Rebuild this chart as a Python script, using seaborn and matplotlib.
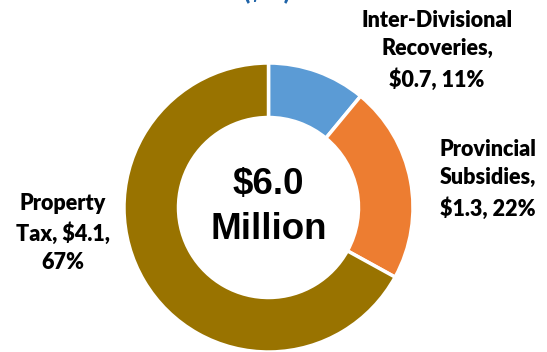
import matplotlib
matplotlib.use("Agg")
import matplotlib.pyplot as plt
import seaborn as sns

# Revenue sources ($ millions) and their shares
categories = ["Inter-Divisional Recoveries", "Provincial Subsidies", "Property Tax"]
amounts = [0.7, 1.3, 4.1]
shares = [11, 22, 67]
label_lines = [
    ["Inter-Divisional", "Recoveries,", "$0.7, 11%"],
    ["Provincial", "Subsidies,", "$1.3, 22%"],
    ["Property", "Tax, $4.1,", "67%"],
]
colors = ["#5B9BD5", "#ED7D31", "#997300"]
total_text = "$6.0\nMillion"
title_text = "($M)"

sns.set_theme(style="white")

W, H = 547, 352
fig = plt.figure(figsize=(W / 100, H / 100), dpi=100)
ax = fig.add_axes([0, 0, 1, 1])

cx, cy, r_out, r_in = 268.5, 144.5, 144.5, 90.0
ax.pie(
    shares,
    colors=colors,
    startangle=90,
    counterclock=False,
    radius=r_out,
    center=(cx, cy),
    wedgeprops=dict(width=r_out - r_in, edgecolor="white", linewidth=2.5),
    frame=True,
)
ax.set_xlim(0, W)
ax.set_ylim(0, H)
ax.set_aspect("equal")
ax.axis("off")

ax.text(cx, 145, total_text, ha="center", va="center", fontsize=26.5,
        fontweight="bold", family="Liberation Sans", linespacing=1.4,
        color="black")

label_pos = [(437, 302), (488, 173), (63, 119)]
for lines, (x, y) in zip(label_lines, label_pos):
    ax.text(x, y, "\n".join(lines), ha="center", va="center", fontsize=15.5,
            fontweight="heavy", family="Lato", linespacing=1.46,
            color="black")

# Chart heading sits mostly above the canvas
ax.text(267, H - 0.5, title_text, ha="center", va="baseline", fontsize=16,
        fontweight="heavy", family="Lato", color="#1F64A8", clip_on=False)

fig.savefig("out.png", dpi=100)
